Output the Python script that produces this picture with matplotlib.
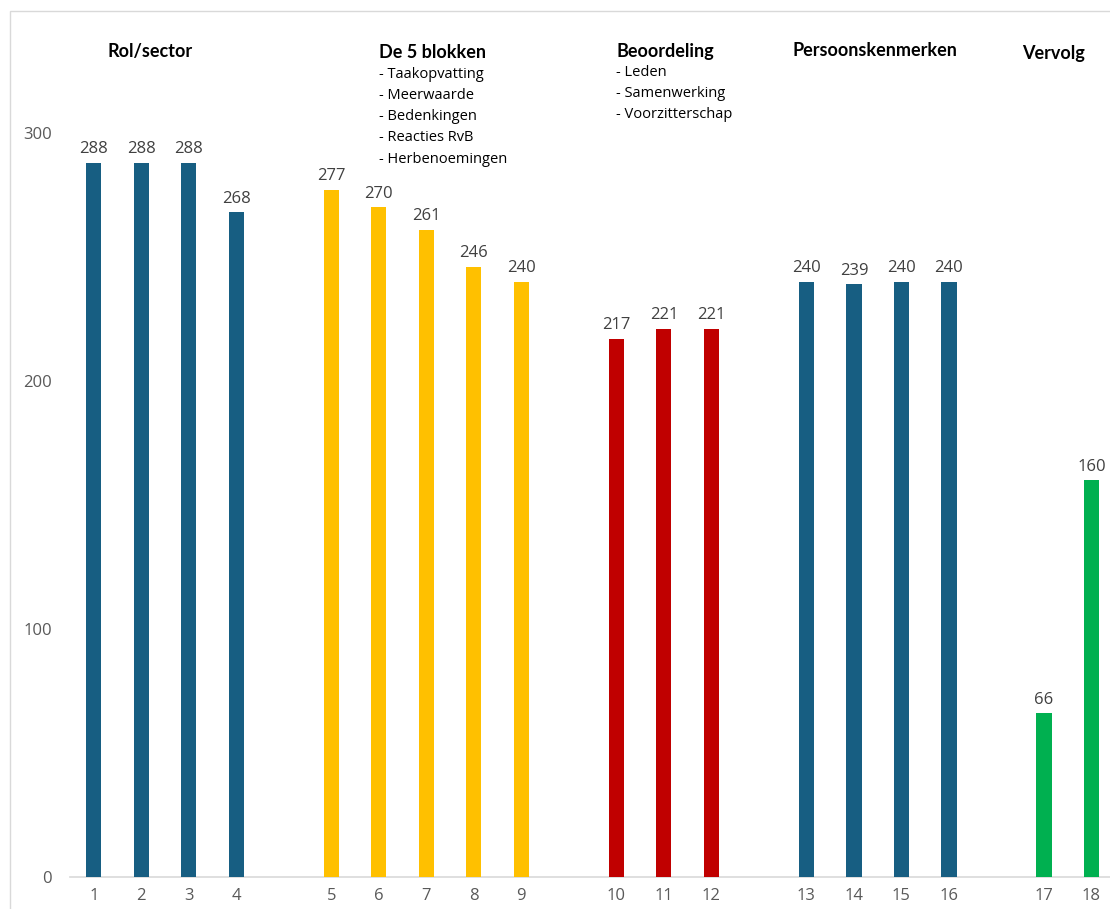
import matplotlib
matplotlib.use("Agg")
import matplotlib.pyplot as plt
from matplotlib.patches import Rectangle

plt.rcParams['font.family'] = ['Open Sans', 'DejaVu Sans']

labels = [str(i) for i in range(1, 19)]
values = [288, 288, 288, 268, 277, 270, 261, 246, 240, 217, 221, 221, 240, 239, 240, 240, 66, 160]
groups = [0, 0, 0, 0, 1, 1, 1, 1, 1, 2, 2, 2, 3, 3, 3, 3, 4, 4]
group_colors = ['#175E82', '#FFC000', '#C00000', '#175E82', '#00B050']
group_titles = ['Rol/sector', 'De 5 blokken', 'Beoordeling', 'Persoonskenmerken', 'Vervolg']
blokken_items = ['- Taakopvatting', '- Meerwaarde', '- Bedenkingen', '- Reacties RvB', '- Herbenoemingen']
beoordeling_items = ['- Leden', '- Samenwerking', '- Voorzitterschap']

W, H = 1110, 909
fig = plt.figure(figsize=(W / 100, H / 100), dpi=100)

# outer chart border
fig.patches.append(Rectangle((10 / W, -0.1), 1.2, (1 - 11 / H) + 0.1, transform=fig.transFigure,
                             fill=False, edgecolor='#D9D9D9', linewidth=1.0))

ax = fig.add_axes([70 / W, (H - 877) / H, 1 - 70 / W, 868 / H])

# positions with a gap slot between groups
positions = []
pos = 0
prev = groups[0]
for g in groups:
    if g != prev:
        pos += 1
        prev = g
    positions.append(pos)
    pos += 1

colors = [group_colors[g] for g in groups]
bars = ax.bar(positions, values, width=0.32, color=colors, zorder=3)
for x, v in zip(positions, values):
    ax.annotate(str(v), (x, v), xytext=(0, 4), textcoords='offset points',
                ha='center', va='bottom', fontsize=12, color='#404040')

ax.set_xlim(-0.5, (1110 - 94) / 47.5)
ax.set_ylim(0, 350)
ax.set_yticks([0, 100, 200, 300])
ax.set_xticks(positions)
ax.set_xticklabels(labels)
ax.tick_params(axis='both', length=0, labelsize=12, labelcolor='#595959')
ax.tick_params(axis='y', pad=13)
ax.tick_params(axis='x', pad=8)
for s in ['top', 'right', 'left']:
    ax.spines[s].set_visible(False)
ax.spines['bottom'].set_color('#D9D9D9')
ax.spines['bottom'].set_linewidth(1.2)
ax.patch.set_alpha(0)

def fx(px):
    return px / W

def fy(py):
    return 1 - py / H

title_font = dict(fontsize=13, fontweight='bold', family=['Lato', 'DejaVu Sans'], va='center')
# group titles
fig.text(fx(150), fy(52), group_titles[0], ha='center', **title_font)
fig.text(fx(379), fy(52), group_titles[1], ha='left', **title_font)
fig.text(fx(616), fy(51), group_titles[2], ha='left', **title_font)
fig.text(fx(875), fy(50), group_titles[3], ha='center', **title_font)
fig.text(fx(1053), fy(53), group_titles[4], ha='center', **title_font)

for i, t in enumerate(blokken_items):
    fig.text(fx(379), fy(74 + i * 21.3), t, ha='left', va='center', fontsize=10.5, color='#000000')
for i, t in enumerate(beoordeling_items):
    fig.text(fx(616), fy(72 + i * 21.3), t, ha='left', va='center', fontsize=10.5, color='#000000')

fig.savefig('out.png', dpi=100, facecolor='white')
